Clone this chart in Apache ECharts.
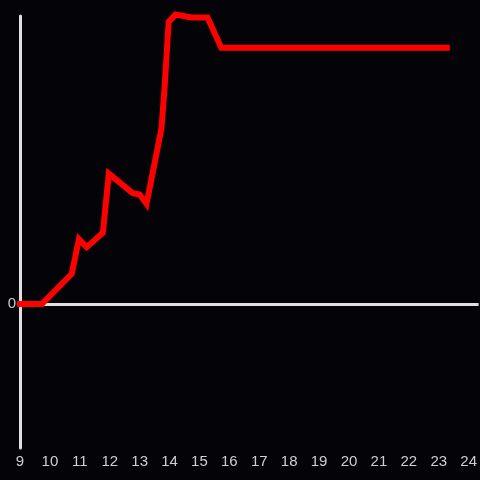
<!DOCTYPE html>
<html>
<head>
<meta charset="utf-8">
<script src="https://cdn.jsdelivr.net/npm/echarts@6/dist/echarts.min.js"></script>
<style>
  html, body {margin: 0; padding: 0; background: #040307;}
  #chart {width: 480px; height: 480px;}
</style>
</head>
<body>
<div id="chart"></div>
<script>
// x values (hours) and y values
const xs = [8.9, 9.73, 10.73, 10.97, 11.23, 11.77, 11.97, 12.77, 13.0, 13.23, 13.73, 13.83, 13.97, 14.2, 14.73, 15.27, 15.73, 23.37];
const ys = [0, 0, 0.21, 0.45, 0.395, 0.495, 0.905, 0.77, 0.76, 0.695, 1.22, 1.49, 1.96, 2.01, 1.99, 1.99, 1.78, 1.78];
const xTicks = [9, 24];

const points = xs.map((x, i) => [x, ys[i]]);

const chart = echarts.init(document.getElementById('chart'));
const option = {
  backgroundColor: '#040307',
  animation: false,
  grid: {left: 20, right: 0, top: 16, bottom: 32},
  xAxis: {
    type: 'value',
    min: xTicks[0],
    max: 24.333,
    interval: 1,
    axisLine: {show: false},
    axisTick: {show: false},
    splitLine: {show: false},
    axisLabel: {
      color: '#cfcfcf',
      fontSize: 15,
      fontFamily: 'Liberation Sans',
      margin: 6,
      showMaxLabel: false,
      formatter: v => (v <= xTicks[1] ? String(v) : '')
    }
  },
  yAxis: {
    type: 'value',
    min: -1,
    max: 2,
    interval: 1,
    axisLine: {show: true, onZero: false, lineStyle: {color: '#e0e0e0', width: 3}},
    axisTick: {show: false},
    splitLine: {show: false},
    axisLabel: {
      color: '#cfcfcf',
      fontSize: 15,
      fontFamily: 'Liberation Sans',
      margin: 4,
      formatter: v => (v === 0 ? '0' : '')
    }
  },
  series: [{
    // zero line
    type: 'line',
    data: [],
    z: 1,
    markLine: {
      silent: true,
      symbol: 'none',
      label: {show: false},
      lineStyle: {color: '#e0e0e0', width: 3, type: 'solid'},
      data: [{yAxis: 0}]
    }
  }, {
    type: 'line',
    data: points,
    clip: false,
    symbol: 'none',
    z: 5,
    lineStyle: {color: '#ff0000', width: 6, cap: 'butt', join: 'miter'}
  }]
};
chart.setOption(option);
</script>
</body>
</html>
